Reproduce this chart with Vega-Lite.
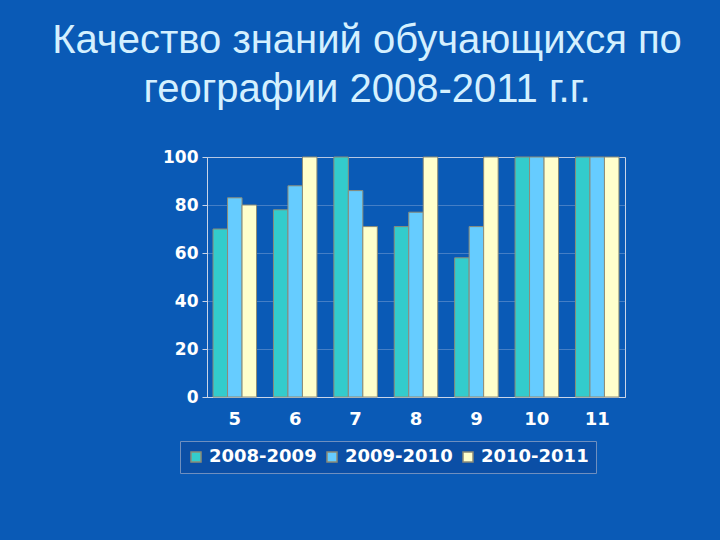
{
  "$schema": "https://vega.github.io/schema/vega-lite/v6.json",
  "width": 418,
  "height": 240,
  "autosize": {"type": "none"},
  "padding": {"left": 207, "top": 157, "right": 95, "bottom": 143},
  "background": "#0a5ab6",
  "title": {
    "text": ["Качество знаний обучающихся по", "географии 2008-2011 г.г."],
    "font": "Liberation Sans, Arial",
    "fontSize": 40,
    "fontWeight": "normal",
    "color": "#d4f0ff",
    "lineHeight": 49,
    "anchor": "middle",
    "dx": -49,
    "offset": 38
  },
  "data": {
    "values": [
      {"grade": "5", "year": "2008-2009", "value": 70},
      {"grade": "5", "year": "2009-2010", "value": 83},
      {"grade": "5", "year": "2010-2011", "value": 80},
      {"grade": "6", "year": "2008-2009", "value": 78},
      {"grade": "6", "year": "2009-2010", "value": 88},
      {"grade": "6", "year": "2010-2011", "value": 100},
      {"grade": "7", "year": "2008-2009", "value": 100},
      {"grade": "7", "year": "2009-2010", "value": 86},
      {"grade": "7", "year": "2010-2011", "value": 71},
      {"grade": "8", "year": "2008-2009", "value": 71},
      {"grade": "8", "year": "2009-2010", "value": 77},
      {"grade": "8", "year": "2010-2011", "value": 100},
      {"grade": "9", "year": "2008-2009", "value": 58},
      {"grade": "9", "year": "2009-2010", "value": 71},
      {"grade": "9", "year": "2010-2011", "value": 100},
      {"grade": "10", "year": "2008-2009", "value": 100},
      {"grade": "10", "year": "2009-2010", "value": 100},
      {"grade": "10", "year": "2010-2011", "value": 100},
      {"grade": "11", "year": "2008-2009", "value": 100},
      {"grade": "11", "year": "2009-2010", "value": 100},
      {"grade": "11", "year": "2010-2011", "value": 100}
    ]
  },
  "mark": {"type": "bar", "stroke": "#8c8c78", "strokeWidth": 1},
  "encoding": {
    "x": {
      "field": "grade",
      "type": "nominal",
      "sort": null,
      "scale": {"paddingInner": 0.28, "paddingOuter": 0.1},
      "axis": {
        "title": null,
        "labelAngle": 0,
        "labelColor": "#ffffff",
        "labelFont": "DejaVu Sans",
        "labelFontWeight": "bold",
        "labelFontSize": 18,
        "labelPadding": 13,
        "domainColor": "#c8d4e8",
        "ticks": false
      }
    },
    "xOffset": {"field": "year", "type": "nominal"},
    "y": {
      "field": "value",
      "type": "quantitative",
      "scale": {"domain": [0, 100]},
      "axis": {
        "title": null,
        "values": [0, 20, 40, 60, 80, 100],
        "labelColor": "#ffffff",
        "labelFont": "DejaVu Sans",
        "labelFontWeight": "bold",
        "labelFontSize": 17,
        "labelPadding": 4,
        "domainColor": "#c8d4e8",
        "tickColor": "#c8d4e8",
        "tickSize": 5,
        "gridColor": "#9ab4dc",
        "gridOpacity": 0.4
      }
    },
    "color": {
      "field": "year",
      "type": "nominal",
      "scale": {
        "domain": ["2008-2009", "2009-2010", "2010-2011"],
        "range": ["#33cccc", "#66ccff", "#ffffcc"]
      },
      "legend": {
        "title": null,
        "orient": "none",
        "legendX": -27,
        "legendY": 284,
        "direction": "horizontal",
        "symbolType": "square",
        "symbolSize": 100,
        "symbolStrokeColor": "#8c8c78",
        "labelColor": "#ffffff",
        "labelFont": "DejaVu Sans",
        "labelFontWeight": "bold",
        "labelFontSize": 18,
        "columnPadding": 6,
        "padding": 7,
        "strokeColor": "#6f8fbf",
        "fillColor": "#0b4fa6"
      }
    }
  },
  "config": {
    "view": {"stroke": "#c8d4e8", "strokeWidth": 1}
  }
}
